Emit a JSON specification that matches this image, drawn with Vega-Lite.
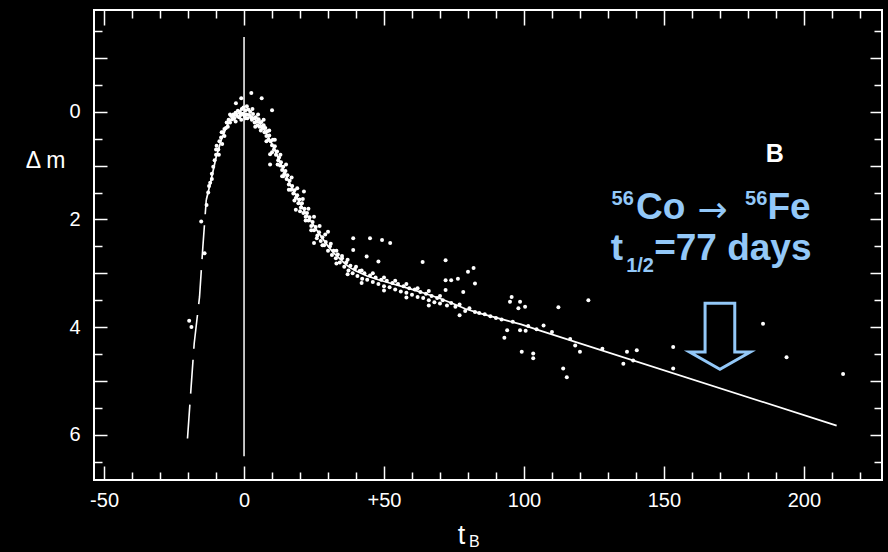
{
  "$schema": "https://vega.github.io/schema/vega-lite/v6.json",
  "width": 788,
  "height": 470,
  "autosize": {"type": "none"},
  "padding": {"left": 94, "top": 10, "right": 6, "bottom": 72},
  "background": "black",
  "config": {"view": {"stroke": "white", "strokeWidth": 2}, "font": "Liberation Sans"},
  "datasets": {
    "obs": [
      {"t":-19.6,"m":3.88},{"t":-18.8,"m":4.0},{"t":-14.1,"m":2.63},{"t":-15.3,"m":2.04},
      {"t":-13.4,"m":1.73},{"t":-12.8,"m":1.5},{"t":-12.1,"m":1.32},{"t":-11.5,"m":1.15},{"t":-11,"m":1.02},{"t":-10.5,"m":0.9},{"t":-10,"m":0.8},{"t":-9.8,"m":0.63},{"t":-9.2,"m":0.7},{"t":-8.8,"m":0.55},{"t":-8.2,"m":0.48},{"t":-7.8,"m":0.6},{"t":-7.5,"m":0.38},{"t":-7,"m":0.32},{"t":-6.5,"m":0.3},{"t":-6.2,"m":0.2},{"t":-5.8,"m":0.28},{"t":-5.5,"m":0.15},{"t":-5,"m":0.2},{"t":-4.6,"m":0.08},{"t":-4.2,"m":0.14},{"t":-3.8,"m":0.05},{"t":-3.5,"m":0.12},{"t":-3,"m":0.02},{"t":-2.9,"m":-0.16},{"t":-2.5,"m":0.08},{"t":-2.2,"m":-0.02},{"t":-1.8,"m":0.1},{"t":-1.5,"m":0},{"t":-1.2,"m":0.06},{"t":-1,"m":-0.25},{"t":-0.8,"m":-0.05},{"t":-0.5,"m":0.04},{"t":-0.2,"m":-0.08},{"t":0.2,"m":0.08},{"t":0.5,"m":-0.03},{"t":0.8,"m":0.05},{"t":1.2,"m":0.12},{"t":1.5,"m":-0.04},{"t":1.8,"m":0.06},{"t":2.2,"m":0},{"t":2.5,"m":0.1},{"t":2.6,"m":-0.35},{"t":2.8,"m":0.15},{"t":3.2,"m":0.04},{"t":3.5,"m":0.12},{"t":3.8,"m":0.2},{"t":4.2,"m":0.1},{"t":4.5,"m":0.18},{"t":4.8,"m":0.25},{"t":5.2,"m":0.14},{"t":5.5,"m":0.28},{"t":5.8,"m":0.2},{"t":6.2,"m":0.19},{"t":6.3,"m":-0.25},{"t":6.5,"m":0.3},{"t":7,"m":0.25},{"t":7.3,"m":0.38},{"t":7.6,"m":0.3},{"t":8,"m":0.45},{"t":8.3,"m":0.36},{"t":8.7,"m":0.52},{"t":9,"m":0.44},{"t":9.3,"m":0.79},{"t":9.3,"m":0.98},{"t":9.5,"m":0.55},{"t":10,"m":-0.03},{"t":10,"m":0.62},{"t":10.3,"m":0.52},{"t":10.7,"m":0.7},{"t":11,"m":0.64},{"t":11.4,"m":0.8},{"t":11.8,"m":0.74},{"t":12.2,"m":0.9},{"t":12.5,"m":0.85},{"t":12.9,"m":1},{"t":13.2,"m":0.94},{"t":13.6,"m":1.2},{"t":13.6,"m":1.08},{"t":14,"m":1.02},{"t":14.4,"m":1.15},{"t":14.8,"m":1.1},{"t":15.2,"m":1.25},{"t":15.5,"m":1.18},{"t":16,"m":1.35},{"t":16.3,"m":1.28},{"t":16.8,"m":1.45},{"t":17.2,"m":1.38},{"t":17.6,"m":1.52},{"t":18,"m":1.46},{"t":18.5,"m":1.82},{"t":18.5,"m":1.6},{"t":19,"m":1.55},{"t":19.4,"m":1.7},{"t":19.8,"m":1.63},{"t":20.3,"m":1.78},{"t":20.7,"m":1.7},{"t":21.4,"m":1.48},{"t":21.2,"m":1.88},{"t":21.6,"m":1.8},{"t":22,"m":1.95},{"t":22.5,"m":1.88},{"t":23,"m":2.02},{"t":23.4,"m":1.96},{"t":24,"m":2.12},{"t":24.5,"m":2.05},{"t":25,"m":2.44},{"t":25,"m":2.2},{"t":25.6,"m":2.14},{"t":26.2,"m":2.3},{"t":26.8,"m":2.24},{"t":27.4,"m":2.4},{"t":28,"m":2.33},{"t":28.6,"m":2.48},{"t":29.2,"m":2.42},{"t":30,"m":2.23},{"t":30,"m":2.58},{"t":30.7,"m":2.5},{"t":31.4,"m":2.66},{"t":32,"m":2.58},{"t":32.8,"m":2.72},{"t":33.5,"m":2.65},{"t":34.2,"m":2.8},{"t":35,"m":2.72},{"t":35.8,"m":2.88},{"t":36.5,"m":2.8},{"t":37.3,"m":2.95},{"t":38,"m":2.86},{"t":38.8,"m":3},{"t":39,"m":2.35},{"t":39,"m":2.57},{"t":39.6,"m":2.92},{"t":40.5,"m":3.05},{"t":41.3,"m":2.96},{"t":42.2,"m":3.1},{"t":43,"m":3},{"t":43.8,"m":2.69},{"t":44,"m":3.12},{"t":45,"m":2.35},{"t":45,"m":3.04},{"t":46,"m":3.16},{"t":47,"m":3.08},{"t":48,"m":2.78},{"t":48,"m":3.2},{"t":49,"m":3.12},{"t":49.3,"m":2.38},{"t":50,"m":3.24},{"t":51,"m":3.14},{"t":52,"m":3.26},{"t":52.2,"m":2.44},{"t":53,"m":3.18},{"t":54,"m":3.3},{"t":55,"m":3.2},{"t":56,"m":3.34},{"t":57,"m":3.24},{"t":58,"m":3.36},{"t":59,"m":3.28},{"t":60,"m":3.4},{"t":61,"m":3.3},{"t":62,"m":3.44},{"t":63,"m":3.35},{"t":63.8,"m":2.79},{"t":64,"m":3.46},{"t":65,"m":3.38},{"t":66,"m":3.5},{"t":67,"m":3.42},{"t":68,"m":3.54},{"t":69,"m":3.46},{"t":70,"m":3.56},{"t":71,"m":3.5},{"t":72,"m":2.76},{"t":72,"m":3.13},{"t":72,"m":3.31},{"t":72.5,"m":3.6},{"t":74,"m":3.13},{"t":74,"m":3.55},{"t":75.5,"m":3.62},{"t":76.4,"m":3.1},{"t":77,"m":3.78},{"t":77,"m":3.58},{"t":78.3,"m":3.35},{"t":79,"m":3.7},{"t":80,"m":2.97},{"t":80.5,"m":3.65},{"t":82,"m":2.9},{"t":82.5,"m":3.19},{"t":82.5,"m":3.72},{"t":84,"m":3.74},{"t":86,"m":3.76},{"t":88,"m":3.8},{"t":90,"m":3.83},{"t":92,"m":3.86},{"t":93,"m":4.2},{"t":94,"m":4.06},{"t":95,"m":3.53},{"t":95.6,"m":3.44},{"t":96,"m":3.9},{"t":98,"m":3.65},{"t":98.6,"m":3.53},{"t":98.6,"m":4.06},{"t":99.2,"m":4.46},{"t":100.4,"m":3.62},{"t":100.6,"m":4.07},{"t":101.5,"m":3.98},{"t":103.3,"m":4.49},{"t":103.3,"m":4.58},{"t":104.5,"m":4.04},{"t":107,"m":3.97},{"t":110,"m":4.09},{"t":112.3,"m":3.63},{"t":114,"m":4.77},{"t":115.3,"m":4.93},{"t":116.5,"m":4.22},{"t":118.3,"m":4.34},{"t":120,"m":4.46},{"t":123,"m":3.5},{"t":128,"m":4.4},{"t":135.5,"m":4.68},{"t":136.8,"m":4.46},{"t":139,"m":4.62},{"t":140.3,"m":4.43},{"t":153.3,"m":4.37},{"t":153.3,"m":4.77},{"t":185.4,"m":3.94},{"t":193.8,"m":4.56},{"t":214,"m":4.87},
      {"t":0.5,"m":0.12},{"t":1,"m":-0.1},{"t":3,"m":-0.05},{"t":4,"m":0.28},{"t":5,"m":0.05},{"t":6,"m":0.35},{"t":7,"m":0.15},{"t":8,"m":0.55},{"t":9,"m":0.35},{"t":10,"m":0.75},{"t":11,"m":0.52},{"t":12,"m":0.98},{"t":13,"m":0.8},{"t":14,"m":1.2},{"t":15,"m":0.98},{"t":16,"m":1.45},{"t":17,"m":1.22},{"t":18,"m":1.65},{"t":19,"m":1.42},{"t":20,"m":1.85},{"t":21,"m":1.62},{"t":22,"m":2.02},{"t":23,"m":1.8},{"t":24,"m":2.2},{"t":25,"m":1.95},{"t":26,"m":2.35},{"t":27,"m":2.12},{"t":28,"m":2.48},{"t":29,"m":2.28},{"t":31,"m":2.45},{"t":33,"m":2.58},{"t":33,"m":2.82},{"t":35,"m":2.68},{"t":37,"m":2.75},{"t":37,"m":3.02},{"t":40,"m":2.88},{"t":42,"m":2.95},{"t":42,"m":3.18},{"t":46,"m":3.0},{"t":50,"m":3.08},{"t":50,"m":3.32},{"t":54,"m":3.14},{"t":58,"m":3.2},{"t":58,"m":3.45},{"t":62,"m":3.28},{"t":66,"m":3.33},{"t":66,"m":3.6},{"t":70,"m":3.42},{"t":-1,"m":0.15},{"t":-3,"m":0.18},{"t":-5,"m":0.05},{"t":-7,"m":0.45},{"t":-8,"m":0.38},{"t":-9,"m":0.8},{"t":-10,"m":0.7},{"t":-11.5,"m":1.25},{"t":-12.5,"m":1.38}
    ],
    "curve": [
      {"t":-13.5,"m":1.64},{"t":-12,"m":1.32},{"t":-10,"m":0.85},{"t":-8,"m":0.5},{"t":-6,"m":0.25},{"t":-4,"m":0.1},{"t":-2,"m":0.03},{"t":0,"m":0.02},{"t":2,"m":0.06},{"t":4,"m":0.14},{"t":6,"m":0.24},{"t":8,"m":0.4},{"t":10,"m":0.6},{"t":12,"m":0.83},{"t":14,"m":1.07},{"t":16,"m":1.3},{"t":18,"m":1.5},{"t":20,"m":1.7},{"t":22,"m":1.88},{"t":24,"m":2.04},{"t":26,"m":2.2},{"t":28,"m":2.35},{"t":30,"m":2.5},{"t":32,"m":2.62},{"t":34,"m":2.72},{"t":36,"m":2.82},{"t":38,"m":2.9},{"t":40,"m":2.96},{"t":44,"m":3.05},{"t":48,"m":3.12},{"t":52,"m":3.18},{"t":56,"m":3.24},{"t":60,"m":3.3},{"t":65,"m":3.38},{"t":70,"m":3.47},{"t":75,"m":3.57},{"t":79,"m":3.66},{"t":84,"m":3.74},{"t":89,"m":3.81},{"t":94,"m":3.88},{"t":99,"m":3.95},{"t":105.5,"m":4.06},{"t":211.7,"m":5.83}
    ],
    "rise": [
      {"t":-20.2,"m":6.07},{"t":-19,"m":5.18},{"t":-17.8,"m":4.3},{"t":-15.9,"m":3.44},{"t":-14.7,"m":2.5},{"t":-13.5,"m":1.64}
    ],
    "one": [{}]
  },
  "layer": [
    {
      "data": {"name": "obs"},
      "mark": {"type": "circle", "color": "white", "size": 16, "opacity": 1},
      "encoding": {
        "x": {"field": "t", "type": "quantitative",
          "scale": {"domain": [-53.6, 227.9], "nice": false, "zero": false},
          "axis": {"orient": "bottom", "values": [-50,-40,-30,-20,-10,0,10,20,30,40,50,60,70,80,90,100,110,120,130,140,150,160,170,180,190,200,210,220],
            "domain": false, "grid": false,
            "tickColor": "white", "tickWidth": 1.5,
            "tickSize": {"condition": {"test": "datum.value % 50 === 0", "value": -14}, "value": -8},
            "labelExpr": "datum.value === -50 ? '-50' : (datum.value === 50 ? '+50' : (datum.value % 50 === 0 ? '' + datum.value : ''))",
            "labelColor": "white", "labelFontSize": 20, "labelPadding": 24, "labelFlush": false, "labelOverlap": false,
            "title": "t", "titleColor": "white", "titleFontSize": 27, "titleFontWeight": "normal",
            "titleX": 367, "titleY": 63, "titleAlign": "center", "titleBaseline": "alphabetic"}},
        "y": {"field": "m", "type": "quantitative",
          "scale": {"domain": [-1.89, 6.84], "reverse": true, "nice": false, "zero": false},
          "axis": {"orient": "left", "values": [-1.5,-1,-0.5,0,0.5,1,1.5,2,2.5,3,3.5,4,4.5,5,5.5,6,6.5],
            "domain": false, "grid": false,
            "tickColor": "white", "tickWidth": 1.5,
            "tickSize": {"condition": {"test": "datum.value % 1 === 0", "value": -13}, "value": -8},
            "labelExpr": "datum.value % 2 === 0 ? '' + datum.value : ''",
            "labelColor": "white", "labelFontSize": 20, "labelPadding": 27, "labelOverlap": false, "labelFlush": false,
            "title": "Δ m", "titleColor": "white", "titleFontSize": 23, "titleFontWeight": "normal",
            "titleAngle": 0, "titleX": -49, "titleY": 150, "titleAlign": "center", "titleBaseline": "middle"}}
      }
    },
    {
      "data": {"name": "curve"},
      "mark": {"type": "point", "opacity": 0},
      "encoding": {
        "x": {"field": "t", "type": "quantitative",
          "scale": {"domain": [-53.6, 227.9], "nice": false, "zero": false},
          "axis": {"orient": "top", "values": [-50,-40,-30,-20,-10,0,10,20,30,40,50,60,70,80,90,100,110,120,130,140,150,160,170,180,190,200,210,220],
            "domain": false, "grid": false, "labels": false, "title": null,
            "tickColor": "white", "tickWidth": 1.5,
            "tickSize": {"condition": {"test": "datum.value % 50 === 0", "value": -15}, "value": -8}}},
        "y": {"field": "m", "type": "quantitative",
          "scale": {"domain": [-1.89, 6.84], "reverse": true, "nice": false, "zero": false},
          "axis": {"orient": "right", "values": [-1.5,-1,-0.5,0,0.5,1,1.5,2,2.5,3,3.5,4,4.5,5,5.5,6,6.5],
            "domain": false, "grid": false, "labels": false, "title": null,
            "tickColor": "white", "tickWidth": 1.5,
            "tickSize": {"condition": {"test": "datum.value % 1 === 0", "value": -12}, "value": -8}}}
      }
    },
    {
      "data": {"name": "curve"},
      "mark": {"type": "line", "color": "white", "strokeWidth": 1.7},
      "encoding": {
        "x": {"field": "t", "type": "quantitative", "scale": {"domain": [-53.6, 227.9], "nice": false, "zero": false}, "axis": null},
        "y": {"field": "m", "type": "quantitative", "scale": {"domain": [-1.89, 6.84], "reverse": true, "nice": false, "zero": false}, "axis": null}
      }
    },
    {
      "data": {"name": "rise"},
      "mark": {"type": "line", "color": "white", "strokeWidth": 1.6, "strokeDash": [34, 11]},
      "encoding": {
        "x": {"field": "t", "type": "quantitative", "scale": {"domain": [-53.6, 227.9], "nice": false, "zero": false}, "axis": null},
        "y": {"field": "m", "type": "quantitative", "scale": {"domain": [-1.89, 6.84], "reverse": true, "nice": false, "zero": false}, "axis": null}
      }
    },
    {
      "data": {"name": "one"},
      "mark": {"type": "rule", "color": "white", "strokeWidth": 1.5},
      "encoding": {
        "x": {"datum": 0, "type": "quantitative", "scale": {"domain": [-53.6, 227.9], "nice": false, "zero": false}, "axis": null},
        "y": {"datum": -1.39, "type": "quantitative", "scale": {"domain": [-1.89, 6.84], "reverse": true, "nice": false, "zero": false}, "axis": null},
        "y2": {"datum": 6.4}
      }
    },
    {
      "data": {"name": "one"},
      "mark": {"type": "point", "shape": "M-0.45,-1L0.45,-1L0.45,0.48L0.92,0.48L0,1L-0.92,0.48L-0.45,0.48Z", "size": 4356, "filled": false, "stroke": "#93C8F8", "strokeWidth": 3, "opacity": 1},
      "encoding": {
        "x": {"datum": 170, "type": "quantitative", "scale": {"domain": [-53.6, 227.9], "nice": false, "zero": false}, "axis": null},
        "y": {"datum": 4.17, "type": "quantitative", "scale": {"domain": [-1.89, 6.84], "reverse": true, "nice": false, "zero": false}, "axis": null}
      }
    },
    {
      "data": {"name": "one"},
      "mark": {"type": "text", "text": "B", "color": "white", "fontSize": 25, "fontWeight": "bold", "align": "center", "baseline": "middle"},
      "encoding": {
        "x": {"datum": 189.6, "type": "quantitative", "scale": {"domain": [-53.6, 227.9], "nice": false, "zero": false}, "axis": null},
        "y": {"datum": 0.78, "type": "quantitative", "scale": {"domain": [-1.89, 6.84], "reverse": true, "nice": false, "zero": false}, "axis": null}
      }
    },
    {
      "data": {"name": "one"},
      "mark": {"type": "text", "text": "56", "color": "#93C8F8", "fontSize": 20, "fontWeight": "bold", "align": "left", "baseline": "alphabetic"},
      "encoding": {
        "x": {"datum": 131.3, "type": "quantitative", "scale": {"domain": [-53.6, 227.9], "nice": false, "zero": false}, "axis": null},
        "y": {"datum": 1.73, "type": "quantitative", "scale": {"domain": [-1.89, 6.84], "reverse": true, "nice": false, "zero": false}, "axis": null}
      }
    },
    {
      "data": {"name": "one"},
      "mark": {"type": "text", "text": "Co", "color": "#93C8F8", "fontSize": 37, "fontWeight": "bold", "align": "left", "baseline": "alphabetic"},
      "encoding": {
        "x": {"datum": 140.0, "type": "quantitative", "scale": {"domain": [-53.6, 227.9], "nice": false, "zero": false}, "axis": null},
        "y": {"datum": 2.0, "type": "quantitative", "scale": {"domain": [-1.89, 6.84], "reverse": true, "nice": false, "zero": false}, "axis": null}
      }
    },
    {
      "data": {"name": "one"},
      "mark": {"type": "text", "text": "→", "font": "DejaVu Sans", "color": "#93C8F8", "fontSize": 36, "fontWeight": "normal", "align": "left", "baseline": "alphabetic"},
      "encoding": {
        "x": {"datum": 162.0, "type": "quantitative", "scale": {"domain": [-53.6, 227.9], "nice": false, "zero": false}, "axis": null},
        "y": {"datum": 2.04, "type": "quantitative", "scale": {"domain": [-1.89, 6.84], "reverse": true, "nice": false, "zero": false}, "axis": null}
      }
    },
    {
      "data": {"name": "one"},
      "mark": {"type": "text", "text": "56", "color": "#93C8F8", "fontSize": 20, "fontWeight": "bold", "align": "left", "baseline": "alphabetic"},
      "encoding": {
        "x": {"datum": 179, "type": "quantitative", "scale": {"domain": [-53.6, 227.9], "nice": false, "zero": false}, "axis": null},
        "y": {"datum": 1.73, "type": "quantitative", "scale": {"domain": [-1.89, 6.84], "reverse": true, "nice": false, "zero": false}, "axis": null}
      }
    },
    {
      "data": {"name": "one"},
      "mark": {"type": "text", "text": "Fe", "color": "#93C8F8", "fontSize": 37, "fontWeight": "bold", "align": "left", "baseline": "alphabetic"},
      "encoding": {
        "x": {"datum": 187.0, "type": "quantitative", "scale": {"domain": [-53.6, 227.9], "nice": false, "zero": false}, "axis": null},
        "y": {"datum": 2.0, "type": "quantitative", "scale": {"domain": [-1.89, 6.84], "reverse": true, "nice": false, "zero": false}, "axis": null}
      }
    },
    {
      "data": {"name": "one"},
      "mark": {"type": "text", "text": "t", "color": "#93C8F8", "fontSize": 37, "fontWeight": "bold", "align": "left", "baseline": "alphabetic"},
      "encoding": {
        "x": {"datum": 131.0, "type": "quantitative", "scale": {"domain": [-53.6, 227.9], "nice": false, "zero": false}, "axis": null},
        "y": {"datum": 2.76, "type": "quantitative", "scale": {"domain": [-1.89, 6.84], "reverse": true, "nice": false, "zero": false}, "axis": null}
      }
    },
    {
      "data": {"name": "one"},
      "mark": {"type": "text", "text": "1/2", "color": "#93C8F8", "fontSize": 20, "fontWeight": "bold", "align": "left", "baseline": "alphabetic"},
      "encoding": {
        "x": {"datum": 136.5, "type": "quantitative", "scale": {"domain": [-53.6, 227.9], "nice": false, "zero": false}, "axis": null},
        "y": {"datum": 2.97, "type": "quantitative", "scale": {"domain": [-1.89, 6.84], "reverse": true, "nice": false, "zero": false}, "axis": null}
      }
    },
    {
      "data": {"name": "one"},
      "mark": {"type": "text", "text": "=77 days", "color": "#93C8F8", "fontSize": 37, "fontWeight": "bold", "align": "left", "baseline": "alphabetic"},
      "encoding": {
        "x": {"datum": 146.5, "type": "quantitative", "scale": {"domain": [-53.6, 227.9], "nice": false, "zero": false}, "axis": null},
        "y": {"datum": 2.76, "type": "quantitative", "scale": {"domain": [-1.89, 6.84], "reverse": true, "nice": false, "zero": false}, "axis": null}
      }
    },
    {
      "data": {"name": "one"},
      "mark": {"type": "text", "text": "B", "color": "white", "fontSize": 16, "fontWeight": "normal", "align": "left", "baseline": "alphabetic"},
      "encoding": {
        "x": {"datum": 80.4, "type": "quantitative", "scale": {"domain": [-53.6, 227.9], "nice": false, "zero": false}, "axis": null},
        "y": {"datum": 8.08, "type": "quantitative", "scale": {"domain": [-1.89, 6.84], "reverse": true, "nice": false, "zero": false}, "axis": null}
      }
    }
  ],
  "resolve": {"axis": {"x": "independent", "y": "independent"}}
}
